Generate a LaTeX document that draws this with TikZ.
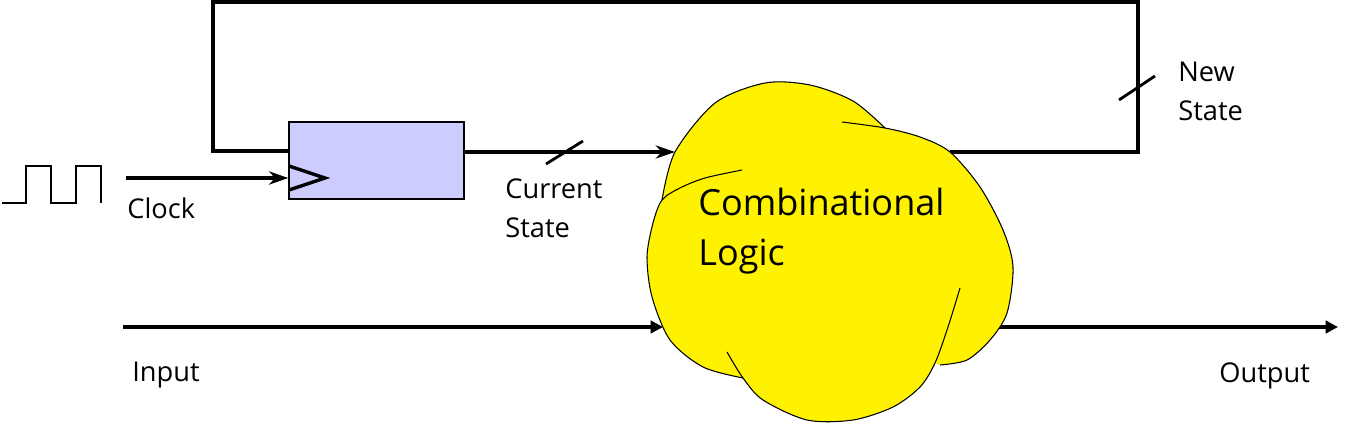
\documentclass[tikz,border=0pt]{standalone}
\usepackage{fontspec}
\setmainfont{Open Sans}
\usetikzlibrary{arrows.meta}
\definecolor{regblue}{RGB}{204,204,255}

\begin{document}
\begin{tikzpicture}[x=0.02cm,y=-0.02cm,
  sig/.style={line width=1.9pt},
  tick/.style={line width=1.6pt},
  tip/.style={-{Stealth[length=11pt,width=7.5pt,inset=3.5pt]}},
  filltip/.style={-{Triangle[length=7pt,width=7pt]}},
  lbl/.style={font=\fontsize{15.5}{22}\selectfont,align=left,inner sep=0pt,anchor=base west},
  biglbl/.style={font=\fontsize{20.5}{28.3}\selectfont,align=left,inner sep=0pt,anchor=base west},
  regbox/.style={draw,line width=0.8pt,fill=regblue,minimum width=3.5cm,minimum height=1.54cm,inner sep=0pt},
  blobline/.style={line width=0.6pt}]
\useasboundingbox (0,0) rectangle (1358,423);

% clock waveform
\draw[line width=0.6pt] (2,203) -- (26,203) -- (26,166) -- (51,166) -- (51,203)
  -- (76,203) -- (76,166) -- (101,166) -- (101,203);

% register
\node[regbox] (reg) at (376.5,160.5) {};
\draw[sig] (289,166) -- (325,178) -- (289,190);
\coordinate (clk) at (126,178);
\coordinate (din) at (289,151);
\draw[sig,tip] (clk) -- (clk -| reg.west);
\node[lbl] (clklbl) at (127,218) {Clock};

% lines behind the cloud
\coordinate (fb) at (950,152);
\coordinate (outa) at (960,327);
\coordinate (outb) at (1338,327);
\draw[sig] (fb) -- (1138,152) -- (1138,2) -- (213,2) |- (din);
\draw[sig,filltip] (outa) -- (outb);

% the cloud
\fill[yellow] plot[smooth] coordinates {(662,200) (675,152) (715,103) (765,83) (810,85) (853,101) (885,128)}
  -- plot[smooth] coordinates {(885,128) (920,137) (950,152) (980,187) (1003,230) (1013,267) (1007,313) (990,340) (967,360) (940,365)}
  -- plot[smooth] coordinates {(935,363) (920,387) (893,407) (853,420) (807,420) (763,400) (743,378)}
  -- plot[smooth] coordinates {(743,378) (703,367) (670,340) (652,297) (647,257) (653,223) (662,200)} -- cycle;
\draw[blobline] plot[smooth] coordinates {(662,200) (675,152) (715,103) (765,83) (810,85) (853,101) (885,128)};
\draw[blobline] plot[smooth] coordinates {(842,122) (885,128) (920,137) (950,152) (980,187) (1003,230) (1013,267) (1007,313) (990,340) (967,360) (940,365)};
\draw[blobline] plot[smooth] coordinates {(960,288) (948,327) (935,363) (920,387) (893,407) (853,420) (807,420) (763,400) (743,378) (727,352)};
\draw[blobline] plot[smooth] coordinates {(742,170) (705,178) (680,188) (662,200) (653,223) (647,257) (652,297) (670,340) (703,367) (743,378)};
\node[biglbl] (logic) at (698,265) {Combinational\\Logic};

% arrows into the cloud
\coordinate (cs) at (675,152);
\coordinate (ina) at (123,327);
\coordinate (inb) at (663,327);
\draw[sig,tip] (reg.east |- cs) -- (cs);
\draw[tick] (546,164) -- (583,141);
\node[lbl] (cslbl) at (505,237) {Current\\State};
\draw[sig,filltip] (ina) -- (inb);
\node[lbl] (inlbl) at (132,381) {Input};
\node[lbl] (outlbl) at (1219,382) {Output};

% new state
\draw[tick] (1119,100) -- (1155,76);
\node[lbl] (nslbl) at (1178,120) {New\\State};
\end{tikzpicture}
\end{document}
